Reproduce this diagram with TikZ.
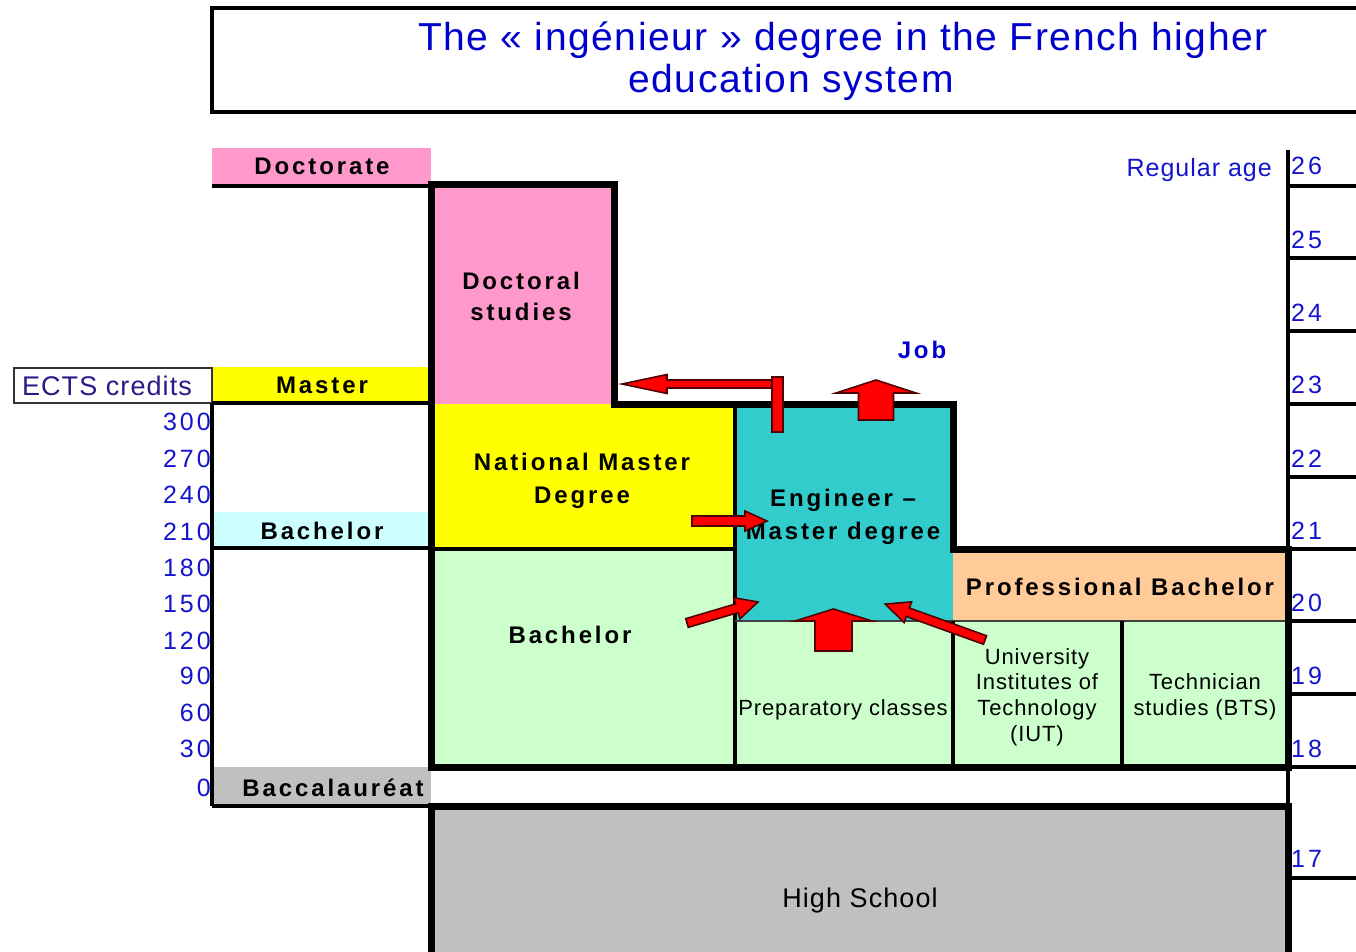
\documentclass[tikz,border=0pt]{standalone}
\usepackage{fontspec}
\setmainfont{Liberation Sans}
\newfontfamily\lsA[LetterSpace=12]{Liberation Sans}
\newfontfamily\lsB[LetterSpace=4]{Liberation Sans}
\definecolor{pinkc}{HTML}{FF99CC}
\definecolor{yelc}{HTML}{FFFF00}
\definecolor{cyanc}{HTML}{CCFFFF}
\definecolor{grayc}{HTML}{C0C0C0}
\definecolor{tealc}{HTML}{33CCCC}
\definecolor{greenc}{HTML}{CCFFCC}
\definecolor{orangec}{HTML}{FFCC99}
\definecolor{numblue}{HTML}{1414CC}
\definecolor{ttlblue}{HTML}{0000CC}
\definecolor{navyc}{HTML}{2A1A8A}
\definecolor{arrred}{HTML}{FF0000}
\definecolor{arrdark}{HTML}{500000}
\newcommand{\blkarrow}[6]{%
  \begin{scope}[shift={(#1)}, rotate=#2]
    \filldraw[redarr] (0,-#4/2) -- ({#3-#6},-#4/2) -- ({#3-#6},-#5/2) -- (#3,0)
      -- ({#3-#6},#5/2) -- ({#3-#6},#4/2) -- (0,#4/2) -- cycle;
  \end{scope}}
\begin{document}
\begin{tikzpicture}[x=1pt,y=-1pt,
  blk/.style={inner sep=0, outer sep=0, draw=none},
  bl/.style={font=\lsA\bfseries\fontsize{24}{28}\selectfont, anchor=base, inner sep=0},
  rg/.style={font=\lsB\fontsize{22}{26}\selectfont, anchor=base, inner sep=0},
  num/.style={font=\lsA\fontsize{25}{28}\selectfont, text=numblue, anchor=base east, inner sep=0},
  rnum/.style={font=\lsA\fontsize{25}{28}\selectfont, text=numblue, anchor=base west, inner sep=0},
  ttl/.style={font=\lsB\fontsize{39}{44}\selectfont, text=ttlblue, anchor=base, inner sep=0},
  thickline/.style={line width=7pt, line join=miter},
  midline/.style={line width=4pt},
  thinline/.style={line width=1.5pt, draw=black!75},
  redarr/.style={fill=arrred, draw=arrdark, line width=1.6pt, line join=miter},
]
\useasboundingbox (0,0) rectangle (1356,952);
\fill[white] (0,0) rectangle (1356,952);

% title
\node[draw, line width=3.5pt, minimum width=1158pt, minimum height=104pt, inner sep=0] (title) at (791,60) {};
\node[ttl] (t1) at (843,51) {The « ingénieur » degree in the French higher};
\node[ttl] (t2) at (791,93) {education system};

% left bands
\node[blk, fill=pinkc, minimum width=219pt, minimum height=38pt] (bdoc) at (321.5,167) {};
\node[blk, fill=yelc, minimum width=219pt, minimum height=36pt] (bmas) at (321.5,385) {};
\node[blk, fill=cyanc, minimum width=219pt, minimum height=36pt] (bbac) at (321.5,530) {};
\node[blk, fill=grayc, minimum width=219pt, minimum height=39pt] (bbacc) at (321.5,786.5) {};
\node[blk, draw=black!80, line width=1.2pt, minimum width=198pt, minimum height=35pt] (ects) at (113,385.5) {};

% main blocks
\node[blk, fill=pinkc, minimum width=183pt, minimum height=219pt] (doc) at (522.5,294.5) {};
\node[blk, fill=yelc, minimum width=304pt, minimum height=145pt] (nmd) at (583,476.5) {};
\node[blk, fill=tealc, minimum width=218pt, minimum height=217pt] (eng) at (844,512.5) {};
\node[blk, fill=greenc, minimum width=304pt, minimum height=218pt] (bach) at (583,658) {};
\node[blk, fill=greenc, minimum width=218pt, minimum height=146pt] (prep) at (844,694) {};
\node[blk, fill=orangec, minimum width=335pt, minimum height=72pt] (prof) at (1120.5,585) {};
\node[blk, fill=greenc, minimum width=169pt, minimum height=146pt] (iut) at (1037.5,694) {};
\node[blk, fill=greenc, minimum width=166pt, minimum height=146pt] (bts) at (1205,694) {};
\node[blk, fill=grayc, minimum width=857pt, minimum height=154pt] (hs) at (859.5,883) {};

% band lines
\draw[midline] (bdoc.south west) -- (bdoc.south east);
\draw[midline] (bmas.south west) -- (bmas.south east);
\draw[midline] (bbac.south west) -- (bbac.south east);
\draw[midline] (bbacc.south west) -- (bbacc.south east);
\draw[midline] (bmas.south west) -- (bbacc.south west);

% inner lines
\draw[midline] (bach.north west) -- (bach.north east);
\draw[midline] (eng.north west) -- (prep.south west);
\draw[thinline] (prep.north west) -- (bts.north east);
\draw[midline] (iut.north west) -- (iut.south west);
\draw[midline] (bts.north west) -- (bts.south west);

% right axis
\coordinate (axtop) at (1288,150);
\coordinate (axbot) at (1288,960);
\draw[midline] (axtop) -- (axbot);
\foreach \yy in {186,258,331,404,477,549,621,694,767,878}
  \draw[midline] (1288,\yy) -- (1360,\yy);

% thick outlines
\draw[thickline] (doc.north west) -- (doc.north east) -- (doc.south east) -- (eng.north east)
  -- (prof.north west) -- (prof.north east) -- (bts.south east) -- (bach.south west) -- cycle;
\draw[thickline] (hs.south west) -- (hs.north west) -- (hs.north east) -- (hs.south east);

% left labels
\node[bl] (ldoc) at (322,175) {Doctorate};
\node[bl] (lmas) at (322,393) {Master};
\node[bl] (lbac) at (322,539) {Bachelor};
\node[bl] (lbacc) at (333,796) {Baccalauréat};
\node[font=\lsB\fontsize{27}{30}\selectfont, text=navyc, anchor=base, inner sep=0] (lects) at (107,395) {ECTS credits};

\foreach \v/\yy in {300/430,270/467,240/503,210/540,180/576,150/612,120/649,90/684,60/721,30/757,0/796}
  \node[num] at (211,\yy) {\v};
\foreach \v/\yy in {26/175,25/248,24/321,23/393,22/467,21/539,20/611,19/684,18/757,17/867}
  \node[rnum] at (1291,\yy) {\v};
\node[font=\lsB\fontsize{25}{28}\selectfont, text=numblue, anchor=base east, inner sep=0] (rage) at (1272,177) {Regular age};

% block labels
\node[bl] (tdoc1) at (521,289) {Doctoral};
\node[bl] (tdoc2) at (521,320) {studies};
\node[bl] (tnmd1) at (582,470) {National Master};
\node[bl] (tnmd2) at (582,503) {Degree};
\node[bl] (teng1) at (843,506) {Engineer –};
\node[bl] (teng2) at (843,539) {Master degree};
\node[bl] (tbach) at (570,643) {Bachelor};
\node[bl] (tprof) at (1120,595) {Professional Bachelor};
\node[bl, text=ttlblue] (tjob) at (922,358) {Job};
\node[rg] (tprep) at (843,715) {Preparatory classes};
\node[rg] (tiut1) at (1037,664) {University};
\node[rg] (tiut2) at (1037,689) {Institutes of};
\node[rg] (tiut3) at (1037,715) {Technology};
\node[rg] (tiut4) at (1037,741) {(IUT)};
\node[rg] (tbts1) at (1205,689) {Technician};
\node[rg] (tbts2) at (1205,715) {studies (BTS)};
\node[font=\lsB\fontsize{27}{30}\selectfont, anchor=base, inner sep=0] (ths) at (860,907) {High School};

% arrows
\coordinate (a1) at (777,384);
\blkarrow{a1}{180}{155}{8}{19}{45}
\node[redarr, minimum width=11pt, minimum height=55pt, inner sep=0] (tbar) at (777.5,404.5) {};
\coordinate (a2) at (876,420);
\blkarrow{a2}{90}{40}{35}{80}{13}
\coordinate (a3) at (692,521);
\blkarrow{a3}{0}{75}{10}{20}{22}
\coordinate (a4) at (687,623);
\blkarrow{a4}{16.5}{74}{9}{22}{22}
\coordinate (a5) at (833.5,651);
\blkarrow{a5}{90}{42}{37}{77}{12}
\coordinate (a6) at (985,640);
\blkarrow{a6}{160.2}{106}{9}{22}{24}
\end{tikzpicture}
\end{document}
